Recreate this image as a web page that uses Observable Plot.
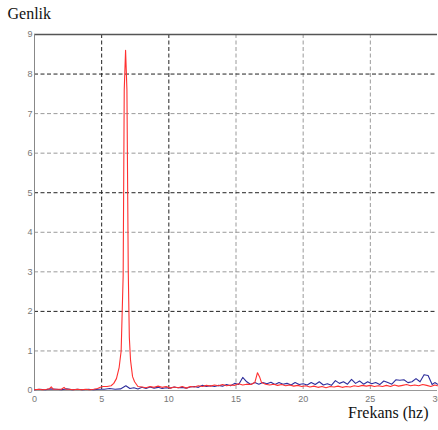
<!DOCTYPE html>
<html><head><meta charset="utf-8">
<script src="https://cdn.jsdelivr.net/npm/d3@7"></script>
<script src="https://cdn.jsdelivr.net/npm/@observablehq/plot@0.6"></script>
<style>body{margin:0;background:#fff}</style>
</head><body><div id="chart"></div>
<script>
const xTicks = [0, 5, 10, 15, 20, 25, 30];
const yTicks = [0, 1, 2, 3, 4, 5, 6, 7, 8, 9];
const darkX = [5, 10];
const lightX = [15, 20, 25];
const darkY = [2, 5, 8];
const lightY = [1, 3, 4, 6, 7];
const xLabel = "Frekans (hz)";
const yLabel = "Genlik";

const freqRed = [0,0.3,0.6,0.9,1.1,1.25,1.4,1.7,2.0,2.2,2.35,2.6,2.9,3.2,3.5,3.8,4.1,4.4,4.7,4.9,5.1,5.4,5.7,5.9,6.1,6.3,6.45,6.6,6.68,6.78,6.88,6.98,7.06,7.15,7.3,7.45,7.7,
  8.0,8.3,8.6,8.9,9.2,9.5,9.8,10.1,10.4,10.7,11.0,11.3,11.6,11.9,12.2,12.5,12.8,13.1,13.4,13.7,14.0,14.3,14.6,14.9,15.2,15.5,15.8,16.1,16.4,16.6,16.75,16.9,
  17.2,17.5,17.8,18.1,18.4,18.7,19.0,19.3,19.6,19.9,20.2,20.5,20.8,21.1,21.4,21.7,22.0,22.3,22.6,22.9,23.2,23.5,23.8,24.1,24.4,24.7,25.0,25.3,25.6,25.9,
  26.2,26.5,26.8,27.1,27.4,27.7,28.0,28.3,28.6,28.9,29.2,29.5,29.8,30];
const ampRed = [0.02,0.03,0.02,0.03,0.04,0.09,0.03,0.03,0.03,0.08,0.03,0.03,0.02,0.03,0.02,0.03,0.02,0.03,0.05,0.08,0.1,0.1,0.12,0.18,0.3,0.58,1.0,2.9,7.6,8.6,7.6,3.0,1.34,0.76,0.35,0.22,0.1,
  0.09,0.07,0.1,0.08,0.11,0.08,0.1,0.06,0.09,0.07,0.1,0.06,0.1,0.09,0.12,0.1,0.13,0.11,0.14,0.12,0.15,0.12,0.14,0.13,0.17,0.14,0.16,0.15,0.2,0.45,0.35,0.2,
  0.16,0.14,0.16,0.13,0.15,0.12,0.14,0.11,0.13,0.1,0.12,0.09,0.11,0.08,0.1,0.07,0.1,0.09,0.11,0.08,0.1,0.09,0.12,0.1,0.13,0.11,0.13,0.1,0.12,0.1,
  0.13,0.1,0.14,0.11,0.13,0.15,0.12,0.14,0.12,0.15,0.13,0.1,0.14,0.12];

const freqBlue = [0,0.4,0.8,1.2,1.6,2.0,2.4,2.8,3.2,3.6,4.0,4.4,4.8,5.2,5.6,6.0,6.4,6.8,7.1,7.4,7.7,8.0,8.3,8.6,8.9,9.2,9.5,9.8,10.1,10.4,10.7,11.0,11.3,11.6,11.9,
  12.2,12.5,12.8,13.1,13.4,13.7,14.0,14.3,14.6,14.9,15.2,15.5,15.8,16.1,16.4,16.7,17.0,17.3,17.6,17.9,18.2,18.5,18.8,19.1,19.4,19.7,20.0,20.3,20.6,20.9,
  21.2,21.5,21.8,22.1,22.4,22.7,23.0,23.3,23.6,23.9,24.2,24.5,24.8,25.1,25.4,25.7,26.0,26.3,26.6,26.9,27.2,27.5,27.8,28.1,28.4,28.7,29.0,29.3,29.6,29.8,30];
const ampBlue = [0.02,0.03,0.02,0.04,0.03,0.02,0.04,0.02,0.03,0.02,0.03,0.02,0.03,0.03,0.05,0.03,0.04,0.12,0.05,0.07,0.04,0.08,0.05,0.09,0.06,0.08,0.05,0.07,0.06,0.09,0.07,0.08,0.06,0.09,0.1,
  0.08,0.13,0.1,0.12,0.1,0.13,0.11,0.15,0.12,0.18,0.15,0.33,0.22,0.15,0.2,0.16,0.2,0.17,0.21,0.15,0.2,0.16,0.18,0.14,0.2,0.15,0.17,0.14,0.2,0.15,
  0.22,0.14,0.17,0.13,0.25,0.18,0.22,0.16,0.28,0.18,0.24,0.16,0.22,0.17,0.2,0.15,0.24,0.2,0.16,0.27,0.26,0.27,0.2,0.22,0.3,0.22,0.4,0.38,0.15,0.2,0.16];

const red = freqRed.map((f, i) => ({f, a: ampRed[i]}));
const blue = freqBlue.map((f, i) => ({f, a: ampBlue[i]}));

const dash = "4,2.5";
const chart = Plot.plot({
  width: 438, height: 430,
  marginLeft: 34, marginRight: 1, marginTop: 34, marginBottom: 40,
  x: {domain: [0, 30]},
  y: {domain: [0, 9]},
  style: {fontFamily: "Liberation Sans, sans-serif", background: "#fff"},
  marks: [
    Plot.ruleX(lightX, {stroke: "#9a9a9a", strokeDasharray: dash}),
    Plot.ruleY(lightY, {stroke: "#9a9a9a", strokeDasharray: dash}),
    Plot.ruleX(darkX, {stroke: "#222", strokeDasharray: dash}),
    Plot.ruleY(darkY, {stroke: "#222", strokeDasharray: dash}),
    Plot.ruleY([9], {stroke: "#555", strokeWidth: 1.5}),
    Plot.ruleX([0], {stroke: "#888"}),
    Plot.ruleY([0], {stroke: "#999"}),
    Plot.axisX({ticks: xTicks, tickSize: 0, tickPadding: 5, fontSize: 9, color: "#777", label: null}),
    Plot.axisY({ticks: yTicks, tickSize: 0, tickPadding: 2, fontSize: 9, color: "#777", label: null}),
    Plot.line(blue, {x: "f", y: "a", stroke: "#2e2e9c", strokeWidth: 1.1}),
    Plot.line(red, {x: "f", y: "a", stroke: "#ff3030", strokeWidth: 1.1}),
    Plot.text([yLabel], {frameAnchor: "top-left", dx: -27, dy: -27, textAnchor: "start", fontSize: 16, fontFamily: "Liberation Serif, serif", fill: "#111"}),
    Plot.text([xLabel], {frameAnchor: "bottom-right", dx: -9, dy: 27, textAnchor: "end", fontSize: 16, fontFamily: "Liberation Serif, serif", fill: "#111"})
  ]
});
document.getElementById("chart").appendChild(chart);
</script>
</body></html>
